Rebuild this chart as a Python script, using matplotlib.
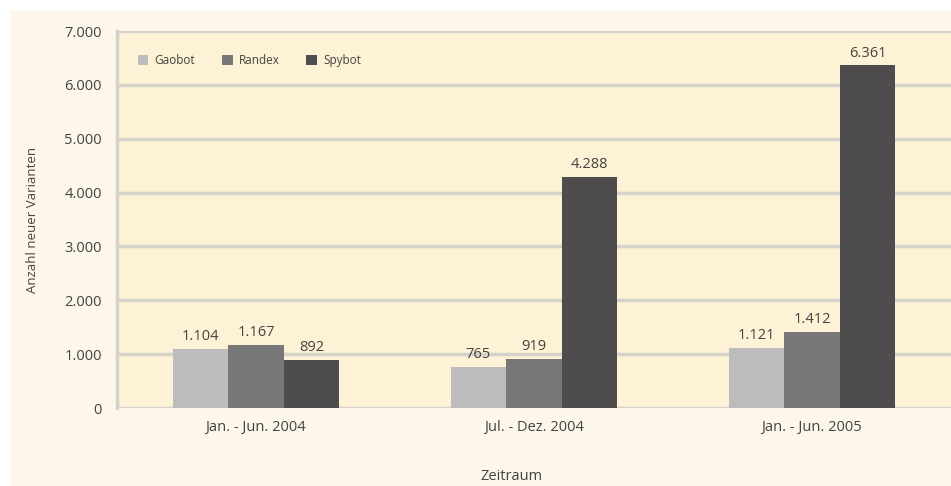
import matplotlib.pyplot as plt
import numpy as np

# Data
periods = ["Jan. - Jun. 2004", "Jul. - Dez. 2004", "Jan. - Jun. 2005"]
series_names = ["Gaobot", "Randex", "Spybot"]
gaobot = [1104, 765, 1121]
randex = [1167, 919, 1412]
spybot = [892, 4288, 6361]
y_ticks = [0, 1000, 2000, 3000, 4000, 5000, 6000, 7000]

colors = ["#bcbcbc", "#787878", "#4e4c4c"]
text_color = "#454341"
grid_color = "#d5d2cb"

plt.rcParams['font.family'] = ['Open Sans', 'DejaVu Sans']


def fmt(v):
    return f"{v:,}".replace(",", ".")


fig = plt.figure(figsize=(9.51, 4.86), dpi=100)
fig.patch.set_facecolor("white")
# cream outer panel, kept behind the axes
fig.patches.append(plt.Rectangle((10 / 951, 0), 1, 1 - 10 / 486, transform=fig.transFigure,
                                 facecolor="#fcf7ea", edgecolor="none", zorder=-10))

ax = fig.add_axes([117 / 951, 1 - 408 / 486, 1 - 117 / 951, (408 - 31) / 486])
ax.set_facecolor("#fdf2d5")

x = np.arange(len(periods))
width = 0.2
for i, (name, vals) in enumerate(zip(series_names, [gaobot, randex, spybot])):
    pos = x + (i - 1) * width
    ax.bar(pos, vals, width, color=colors[i], label=name, zorder=3)
    for px, v in zip(pos, vals):
        ax.text(px, v + 90, fmt(v), ha="center", va="bottom", fontsize=10.5, color=text_color, zorder=4)

ax.set_xlim(-0.5, 2.5)
ax.set_ylim(0, 7000)
ax.set_yticks(y_ticks)
ax.set_yticklabels([fmt(t) for t in y_ticks])
ax.set_xticks(x)
ax.set_xticklabels(periods)
ax.tick_params(axis="both", length=0, labelsize=10.5, colors=text_color)
ax.tick_params(axis="y", pad=11)
ax.tick_params(axis="x", pad=9)
ax.grid(axis="y", color=grid_color, linewidth=2.5, zorder=1)
ax.set_axisbelow(True)
for s in ["top", "right", "bottom"]:
    ax.spines[s].set_visible(False)
ax.spines["left"].set_color(grid_color)
ax.spines["left"].set_linewidth(2.5)

fig.text(33 / 951, 1 - 220 / 486, "Anzahl neuer Varianten", rotation=90, ha="center", va="center",
         fontsize=9.5, color=text_color)
fig.text(512 / 951, 1 - 476 / 486, "Zeitraum", ha="center", va="center", fontsize=10.5, color=text_color)

leg = ax.legend(loc="upper left", bbox_to_anchor=(0.012, 0.968), ncol=3, frameon=False, fontsize=8.5,
                handlelength=0.9, handleheight=0.9, handletextpad=0.5, columnspacing=2.3)
for t in leg.get_texts():
    t.set_color(text_color)

fig.savefig("out.png", dpi=100, facecolor=fig.get_facecolor())
